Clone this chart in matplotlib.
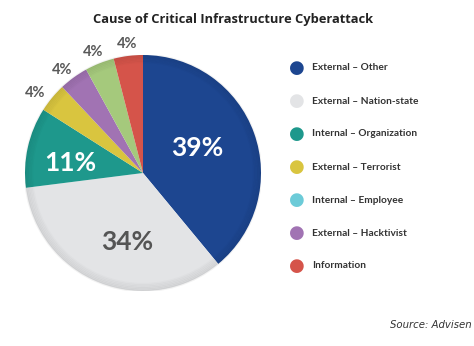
import matplotlib.pyplot as plt
import numpy as np

# wedge shares, clockwise from 12 o'clock
shares = [39, 34, 11, 4, 4, 4, 4]
wedge_colors = ['#1d4690', '#e3e4e6', '#1e988c', '#d9c53f', '#a173b3', '#a5c97c', '#d5544a']
pct_colors = ['white', '#555555', 'white', '#595959', '#595959', '#595959', '#595959']

legend_labels = ['External \u2013 Other', 'External \u2013 Nation-state', 'Internal \u2013 Organization',
                 'External \u2013 Terrorist', 'Internal \u2013 Employee', 'External \u2013 Hacktivist',
                 'Information']
legend_colors = ['#1d4690', '#e3e4e6', '#1e988c', '#d9c53f', '#6ccbd8', '#a173b3', '#d5544a']

# label placement: (radius, angle nudge in degrees) per wedge
label_place = [(0.51, 5), (0.6, 9), (0.62, 4.5), (1.14, 3), (1.11, 2), (1.11, 1), (1.1, 0)]

W, H = 474, 346
fig = plt.figure(figsize=(W / 100, H / 100), dpi=100)
fig.patch.set_facecolor('white')

# pie axes: centre (143, 173) px, radius 118 px
cx, cy, r = 143, 173, 118
ax = fig.add_axes([(cx - r) / W, (H - cy - r) / H, 2 * r / W, 2 * r / H])
wedges, _ = ax.pie(shares, colors=wedge_colors, startangle=90, counterclock=False,
                   wedgeprops=dict(linewidth=0))
# darker rim for a slight dome look
for i in range(6):
    rim = plt.Circle((0, 0), 1 - i * 0.012, fill=False, lw=1.6,
                     color='black', alpha=0.05 - i * 0.007)
    ax.add_patch(rim)
ax.set_xlim(-1, 1)
ax.set_ylim(-1, 1)
ax.set_aspect('equal')
ax.axis('off')

for w, v, c, (d, nudge) in zip(wedges, shares, pct_colors, label_place):
    mid = np.deg2rad((w.theta1 + w.theta2) / 2 + nudge)
    size = 19 if v >= 10 else 10.5
    ax.text(d * np.cos(mid), d * np.sin(mid), f'{v}%', ha='center', va='center',
            fontsize=size, fontweight='bold', color=c, family='Lato')

fig.text(233 / W, 1 - 20 / H, 'Cause of Critical Infrastructure Cyberattack',
         ha='center', va='center', fontsize=9.3, fontweight='bold', color='#222222',
         family='Open Sans')

# legend
for i, (lab, col) in enumerate(zip(legend_labels, legend_colors)):
    y = 1 - (68 + i * 33) / H
    fig.text(297 / W, y, '\u25cf', ha='center', va='center', fontsize=13, color=col,
             family='DejaVu Sans')
    fig.text(312 / W, y, lab, ha='left', va='center', fontsize=7.3, fontweight='bold',
             color='#333333', family='Lato')

fig.text(472 / W, 1 - 325 / H, 'Source: Advisen', ha='right', va='center',
         fontsize=7.3, style='italic', color='#333333', family='DejaVu Sans')

fig.savefig('out.png', dpi=100, facecolor='white')
